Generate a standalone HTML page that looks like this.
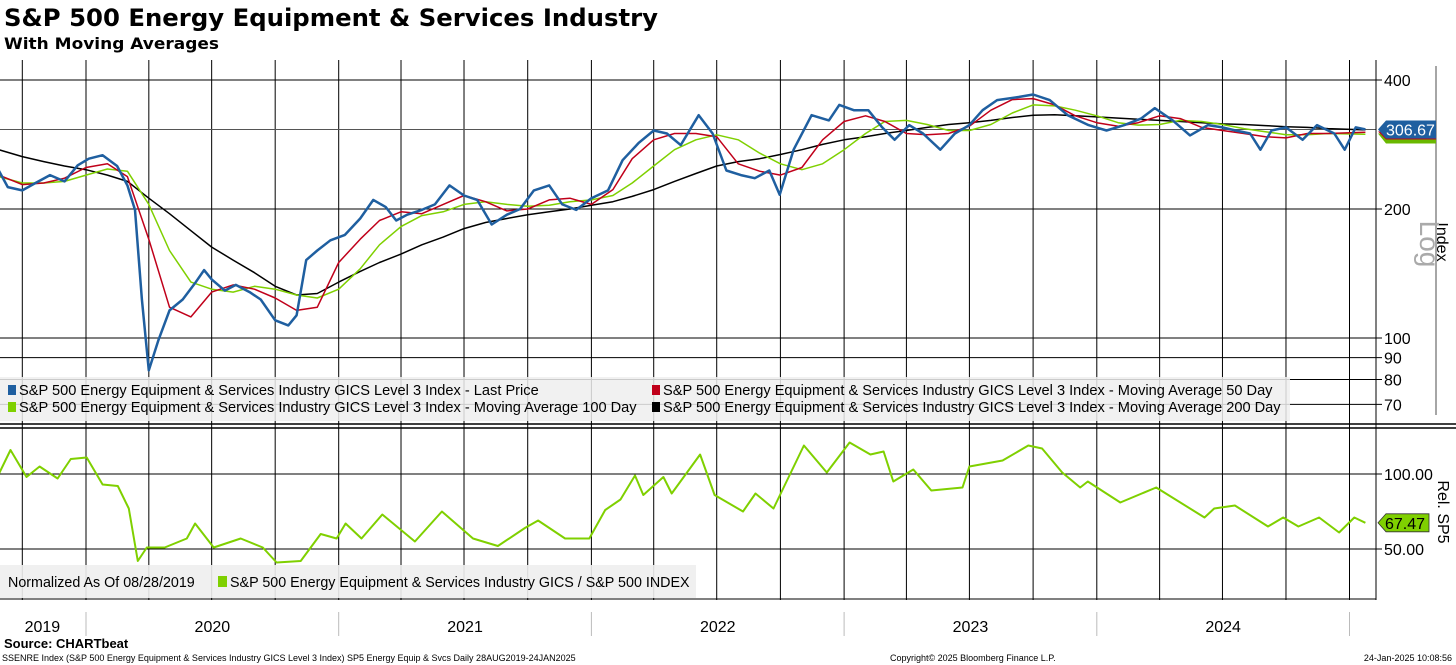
<!DOCTYPE html>
<html><head><meta charset="utf-8"><style>
body{margin:0;background:#fff;font-family:"Liberation Sans",sans-serif;}
svg{display:block}
</style></head><body>
<svg id="c" width="1456" height="665" xmlns="http://www.w3.org/2000/svg" font-family="Liberation Sans, sans-serif">
<text x="4" y="26" font-size="24" font-weight="bold" font-family="DejaVu Sans, sans-serif" textLength="654" lengthAdjust="spacingAndGlyphs">S&amp;P 500 Energy Equipment &amp; Services Industry</text>
<text x="4" y="49" font-size="16" font-weight="bold" font-family="DejaVu Sans, sans-serif" textLength="215" lengthAdjust="spacingAndGlyphs">With Moving Averages</text>
<g id="grid"></g>
<g id="series"></g>
<g id="legend"></g>
<text x="4" y="648" font-size="13" font-weight="bold">Source: CHARTbeat</text>
<text x="2" y="661" font-size="9">SSENRE Index (S&amp;P 500 Energy Equipment &amp; Services Industry GICS Level 3 Index) SP5 Energy Equip &amp; Svcs  Daily 28AUG2019-24JAN2025</text>
<text x="890" y="661" font-size="9">Copyright© 2025 Bloomberg Finance L.P.</text>
<text x="1452" y="661" font-size="9" text-anchor="end">24-Jan-2025 10:08:56</text>
</svg>
<script>
const priceDates=['2019-08-28','2019-09-10','2019-10-01','2019-10-20','2019-11-10','2019-12-01','2019-12-20','2020-01-05','2020-01-25','2020-02-15','2020-03-01','2020-03-12','2020-03-22','2020-04-01','2020-04-15','2020-05-01','2020-05-20','2020-06-08','2020-06-20','2020-07-01','2020-07-20','2020-08-05','2020-08-25','2020-09-10','2020-10-01','2020-10-20','2020-11-01','2020-11-15','2020-12-01','2020-12-20','2021-01-10','2021-02-01','2021-02-20','2021-03-10','2021-03-25','2021-04-10','2021-05-01','2021-05-20','2021-06-10','2021-07-01','2021-07-20','2021-08-10','2021-09-01','2021-09-20','2021-10-10','2021-11-01','2021-11-20','2021-12-10','2022-01-01','2022-01-25','2022-02-15','2022-03-10','2022-04-01','2022-04-20','2022-05-10','2022-06-05','2022-06-25','2022-07-15','2022-08-05','2022-08-25','2022-09-15','2022-09-30','2022-10-20','2022-11-15','2022-12-10','2022-12-25','2023-01-15','2023-02-05','2023-02-25','2023-03-15','2023-04-05','2023-04-25','2023-05-20','2023-06-10','2023-07-01','2023-07-20','2023-08-10','2023-09-10','2023-10-01','2023-10-25','2023-11-20','2023-12-20','2024-01-15','2024-02-10','2024-03-05','2024-03-25','2024-04-20','2024-05-15','2024-06-10','2024-07-01','2024-07-20','2024-08-10','2024-08-25','2024-09-10','2024-10-01','2024-10-25','2024-11-15','2024-12-10','2024-12-25','2025-01-10','2025-01-24'];
const priceValues=[246,225,221,230,240,232,253,262,267,252,227,199,123,84,99,116,123,135,144,137,129,133,128,123,110,107,113,152,160,169,174,190,210,202,188,194,199,205,227,215,210,184,194,200,221,227,205,199,212,221,260,285,305,300,282,331,300,246,240,236,246,216,275,331,322,350,340,340,310,290,314,300,275,300,314,340,359,365,370,359,331,314,305,314,325,344,322,297,314,310,305,300,275,305,310,290,314,300,275,310,306.67];
const maDates=['2019-08-28','2019-10-01','2019-11-01','2019-12-01','2020-01-01','2020-02-01','2020-03-01','2020-04-01','2020-05-01','2020-06-01','2020-07-01','2020-08-01','2020-09-01','2020-10-01','2020-11-01','2020-12-01','2021-01-01','2021-02-01','2021-03-01','2021-04-01','2021-05-01','2021-06-01','2021-07-01','2021-08-01','2021-09-01','2021-10-01','2021-11-01','2021-12-01','2022-01-01','2022-02-01','2022-03-01','2022-04-01','2022-05-01','2022-06-01','2022-07-01','2022-08-01','2022-09-01','2022-10-01','2022-11-01','2022-12-01','2023-01-01','2023-02-01','2023-03-01','2023-04-01','2023-05-01','2023-06-01','2023-07-01','2023-08-01','2023-09-01','2023-10-01','2023-11-01','2023-12-01','2024-01-01','2024-02-01','2024-03-01','2024-04-01','2024-05-01','2024-06-01','2024-07-01','2024-08-01','2024-09-01','2024-10-01','2024-11-01','2024-12-01','2025-01-24'];
const ma50=[240,228,230,236,250,255,238,170,118,112,128,133,130,124,116,118,150,170,188,197,195,205,215,208,198,200,210,212,205,222,262,290,300,300,295,255,245,240,250,290,320,330,320,300,298,300,312,340,360,362,350,330,318,312,318,330,325,310,305,300,295,293,300,300,302];
const ma100=[238,230,230,232,240,248,245,205,160,135,130,128,132,130,126,124,130,145,165,182,193,197,205,208,205,203,204,208,210,215,230,252,275,290,298,290,270,255,247,255,275,300,320,322,315,305,305,315,335,350,348,340,330,318,314,315,322,320,315,308,303,298,298,300,299];
const ma200=[275,265,258,252,247,240,232,212,195,178,163,152,142,132,126,127,135,143,150,157,165,172,180,186,190,194,197,200,204,208,214,222,232,242,252,258,262,268,275,283,290,295,300,305,310,315,318,322,327,331,332,330,328,326,324,322,320,318,316,315,313,311,310,308,306];
const relDates=['2019-08-28','2019-09-14','2019-10-07','2019-10-26','2019-11-21','2019-12-10','2020-01-02','2020-01-25','2020-02-16','2020-03-03','2020-03-16','2020-03-29','2020-04-24','2020-05-26','2020-06-07','2020-07-04','2020-08-12','2020-09-13','2020-10-03','2020-11-07','2020-12-06','2020-12-29','2021-01-11','2021-02-03','2021-03-05','2021-04-21','2021-05-30','2021-07-14','2021-08-19','2021-09-27','2021-10-16','2021-11-24','2021-12-29','2022-01-21','2022-02-12','2022-03-05','2022-03-17','2022-04-15','2022-04-27','2022-06-07','2022-06-28','2022-08-08','2022-08-26','2022-09-21','2022-10-13','2022-11-04','2022-12-07','2023-01-09','2023-02-08','2023-02-27','2023-03-13','2023-04-11','2023-05-07','2023-06-21','2023-07-01','2023-08-18','2023-09-24','2023-10-14','2023-11-12','2023-12-08','2023-12-19','2024-02-04','2024-03-27','2024-06-05','2024-06-19','2024-07-19','2024-09-05','2024-09-27','2024-10-19','2024-11-18','2024-12-17','2025-01-08','2025-01-24'];
const relValues=[100,116,98,105,97,110,111,93,92,77,42,51,51,57,67,51,57,51,41,42,60,57,67,57,73,55,75,57,52,64,69,57,57,76,83,99,86,98,87,113,86,75,87,77,98,119,101,121,113,115,95,103,89,91,105,109,119,117,101,91,95,81,91,71,77,79,65,71,65,71,61,71,67.47];
const upperTicks=[400,200,100,90,80,70];
const lowerTicks=[100,50];
const yearLabels=['2019','2020','2021','2022','2023','2024'];

const NS='http://www.w3.org/2000/svg';
function tx(d){const t=new Date(d+'T00:00:00Z');const y=t.getUTCFullYear();const s=Date.UTC(y,0,1),e=Date.UTC(y+1,0,1);return 86+(y+(t-s)/(e-s)-2020)*252.7;}
function yU(v){return 338-129*Math.log2(v/100);}
function yL(v){return 474-(v-100)*1.5;}
function mk(tag,attrs,parent){const e=document.createElementNS(NS,tag);for(const k in attrs)e.setAttribute(k,attrs[k]);parent.appendChild(e);return e;}
const grid=document.getElementById('grid'),ser=document.getElementById('series'),leg=document.getElementById('legend');
for(let y=2019;y<=2025;y++)for(let q=0;q<4;q++){const m=q*3+1;const d=y+'-'+String(m).padStart(2,'0')+'-01';if(d<'2019-09-01'||d>'2025-01-24')continue;const x=tx(d);
const l=mk('line',{x1:x,y1:60,x2:x,y2:600,stroke:'#000','stroke-width':1},grid);


if(m===1){const s=mk('line',{x1:x,y1:612,x2:x,y2:636,stroke:'#bbb','stroke-width':1},grid);

}}
upperTicks.forEach(v=>{const y=yU(v);const l=mk('line',{x1:0,y1:y,x2:1382,y2:y,stroke:'#000','stroke-width':1},grid);


const t=mk('text',{x:1384,y:y+6,'font-size':16},grid);t.textContent=v;

});
lowerTicks.forEach(v=>{const y=yL(v);const l=mk('line',{x1:0,y1:y,x2:1382,y2:y,stroke:'#000','stroke-width':1},grid);


const t=mk('text',{x:1384,y:y+6,'font-size':16},grid);t.textContent=v.toFixed(2);

});
{const y=yU(priceValues[priceValues.length-1]);const l=mk('line',{x1:0,y1:y,x2:1376,y2:y,stroke:'#555','stroke-width':1},grid);

}
mk('line',{x1:1376,y1:60,x2:1376,y2:600,stroke:'#000','stroke-width':1},grid);
mk('line',{x1:0,y1:424,x2:1456,y2:424,stroke:'#000','stroke-width':1.5},grid);
mk('line',{x1:0,y1:428,x2:1456,y2:428,stroke:'#000','stroke-width':1.5},grid);
mk('line',{x1:0,y1:599,x2:1376,y2:599,stroke:'#000','stroke-width':1},grid);
mk('line',{x1:1436,y1:66,x2:1436,y2:415,stroke:'#888','stroke-width':1.5},grid);
{let t=mk('text',{x:1437,y:242,'font-size':16,transform:'rotate(90 1437 242)','text-anchor':'middle'},grid);t.textContent='Index';


t=mk('text',{x:1420,y:244,'font-size':28,fill:'#aaa',transform:'rotate(90 1420 244)','text-anchor':'middle'},grid);t.textContent='Log';


t=mk('text',{x:1438,y:512,'font-size':16,transform:'rotate(90 1438 512)','text-anchor':'middle'},grid);t.textContent='Rel. SP5';

}
yearLabels.forEach((yr,i)=>{const a=i===0?tx('2019-08-28'):tx(yr+'-01-01');const b=tx((+yr+1)+'-01-01');const t=mk('text',{x:(a+b)/2,y:632,'font-size':16,'text-anchor':'middle'},grid);t.textContent=yr;

});
function line(dates,vals,yf,color,w,name){const d=dates.map((dt,i)=>(i?'L':'M')+tx(dt).toFixed(1)+','+yf(vals[i]).toFixed(1)).join('');const p=mk('path',{d:d,fill:'none',stroke:color,'stroke-width':w,'stroke-linejoin':'round'},ser);

}
line(maDates,ma200,yU,'#000',1.5,'ma200-line');
line(maDates,ma100,yU,'#7fd000',1.5,'ma100-line');
line(maDates,ma50,yU,'#c0001a',1.5,'ma50-line');
line(priceDates,priceValues,yU,'#1f5fa0',2.5,'price-line');
line(relDates,relValues,yL,'#7fd000',2,'relative-line');
{const y=yU(306.67);mk('polygon',{points:`1378,${y+4} 1386,${y+14} 1436,${y+14} 1436,${y+4}`,fill:'#6ab800'},leg);
mk('polygon',{points:`1378,${y+2} 1386,${y+10} 1436,${y+10} 1436,${y+2}`,fill:'#c0001a'},leg);
const g=mk('polygon',{points:`1378,${y} 1386,${y-9} 1436,${y-9} 1436,${y+9} 1386,${y+9}`,fill:'#1f5fa0'},leg);


const t=mk('text',{x:1386,y:y+6,'font-size':16,fill:'#fff'},leg);t.textContent='306.67';


const y2=yL(67.47);const g2=mk('polygon',{points:`1378,${y2} 1386,${y2-9} 1429,${y2-9} 1429,${y2+9} 1386,${y2+9}`,fill:'#7fd000',stroke:'#333','stroke-width':0.8},leg);


const t2=mk('text',{x:1385,y:y2+6,'font-size':16},leg);t2.textContent='67.47';

}
{const r=mk('rect',{x:0,y:377,width:1290,height:44,fill:'#eee','fill-opacity':0.85},leg);


const items=[[8,395,'#1f5fa0','S&P 500 Energy Equipment & Services Industry GICS Level 3 Index - Last Price'],[652,395,'#c0001a','S&P 500 Energy Equipment & Services Industry GICS Level 3 Index - Moving Average 50 Day'],[8,412,'#7fd000','S&P 500 Energy Equipment & Services Industry GICS Level 3 Index - Moving Average 100 Day'],[652,412,'#000','S&P 500 Energy Equipment & Services Industry GICS Level 3 Index - Moving Average 200 Day']];
items.forEach(([x,y,c,s])=>{const q=mk('rect',{x:x,y:y-10,width:8,height:10,fill:c},leg);


const t=mk('text',{x:x+11,y:y,'font-size':14.6},leg);t.textContent=s;

});
const r2=mk('rect',{x:0,y:565,width:696,height:33,fill:'#eee','fill-opacity':0.9},leg);


let t=mk('text',{x:8,y:587,'font-size':14.3},leg);t.textContent='Normalized As Of 08/28/2019';


const q=mk('rect',{x:218,y:576,width:9,height:11,fill:'#7fd000'},leg);


t=mk('text',{x:230,y:587,'font-size':14.3},leg);t.textContent='S&P 500 Energy Equipment & Services Industry GICS / S&P 500 INDEX';

}
</script>
</body></html>
